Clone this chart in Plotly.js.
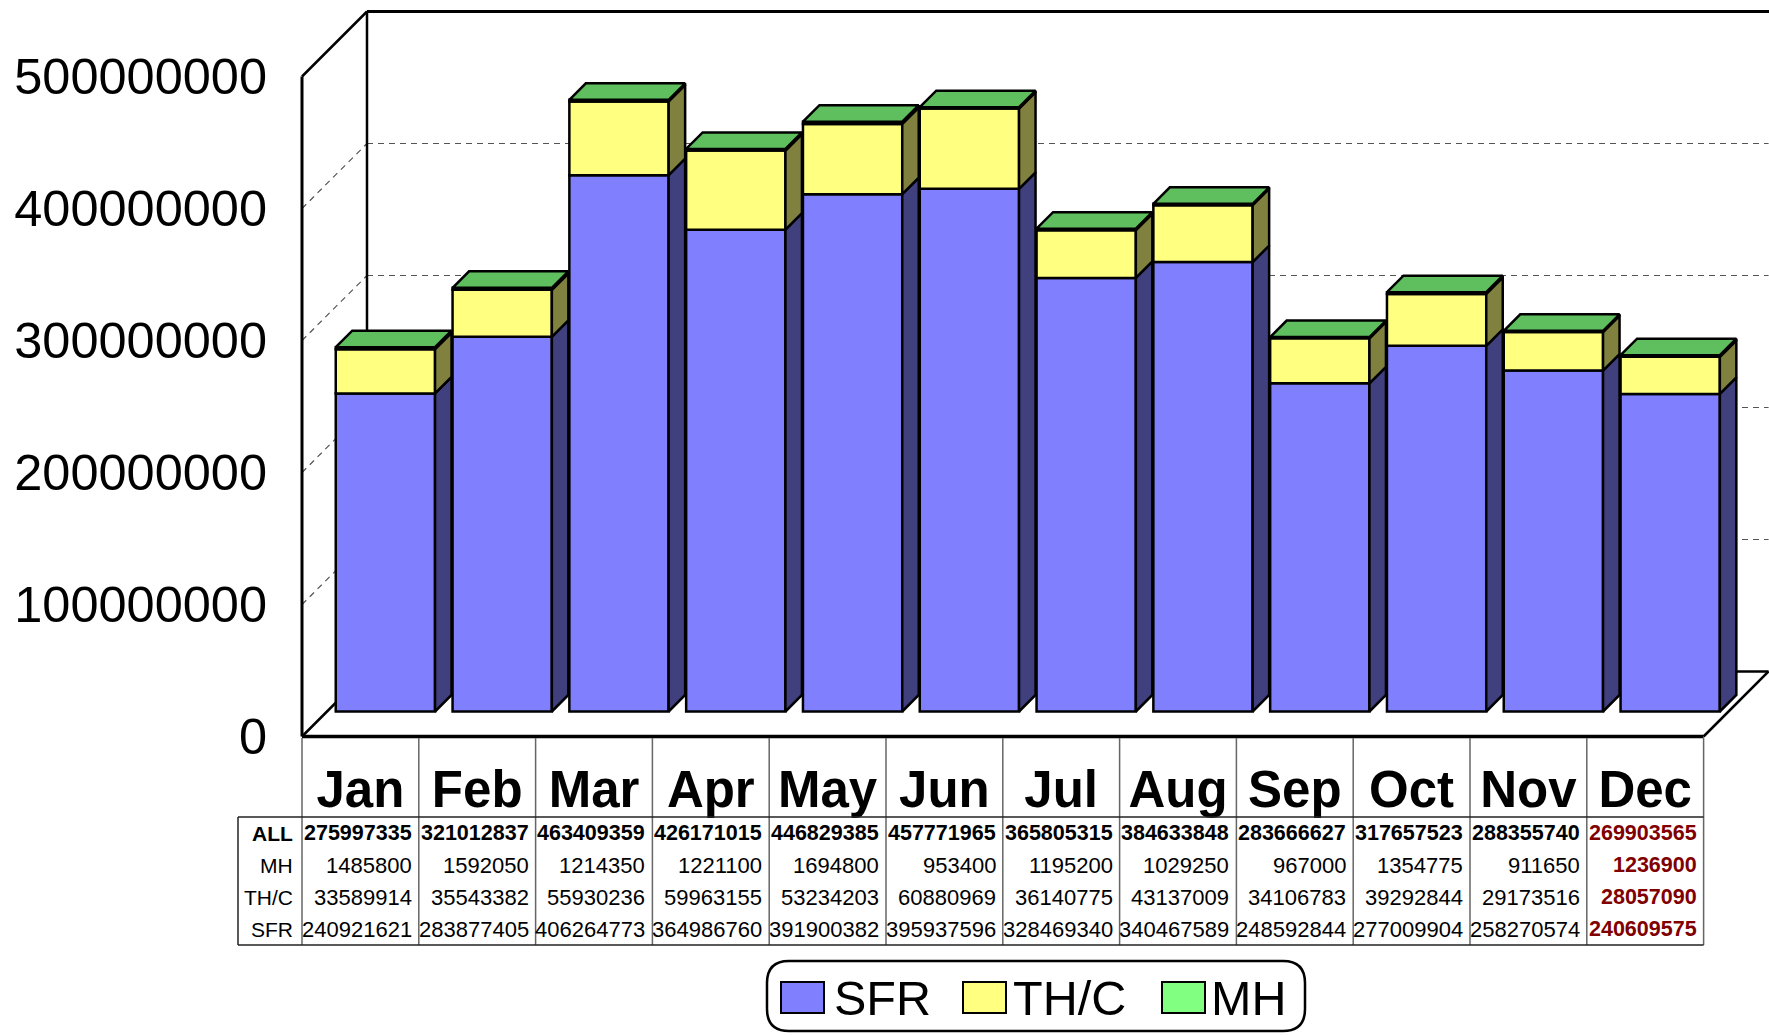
<!DOCTYPE html>
<html><head><meta charset="utf-8">
<script src="https://cdn.plot.ly/plotly-3.0.1.min.js"></script>
<style>html,body{margin:0;padding:0;background:#fff}</style>
</head><body><div id="chart" style="width:1769px;height:1035px"></div>
<script>
// ---------------- data ----------------
const months = ['Jan','Feb','Mar','Apr','May','Jun','Jul','Aug','Sep','Oct','Nov','Dec'];
const sfr = [240921621,283877405,406264773,364986760,391900382,395937596,328469340,340467589,248592844,277009904,258270574,240609575];
const thc = [33589914,35543382,55930236,59963155,53234203,60880969,36140775,43137009,34106783,39292844,29173516,28057090];
const mh  = [1485800,1592050,1214350,1221100,1694800,953400,1195200,1029250,967000,1354775,911650,1236900];
const allTotals = [275997335,321012837,463409359,426171015,446829385,457771965,365805315,384633848,283666627,317657523,288355740,269903565];
const seriesNames = ['SFR','TH/C','MH'];
const rowLabels = ['ALL','MH','TH/C','SFR'];
const yTickVals = [0,100000000,200000000,300000000,400000000,500000000];
const yTickText = ['0','100000000','200000000','300000000','400000000','500000000'];

// ---------------- geometry / style ----------------
const W=1769, H=1035;
const X0=302, Y0=736.5, CAT_PX=116.8, VAL_PX=132/1e8;
const xr=[-X0/CAT_PX,(W-X0)/CAT_PX], yr=[-(H-Y0)/VAL_PX, Y0/VAL_PX];
const ddx = d=>d/CAT_PX, ddv = d=>d/VAL_PX;
const WALL=65, FRONT=25, BACK=41.5, BW=0.85;
const n = months.length;
const vmax = yTickVals[yTickVals.length-1];
const FONT = 'Liberation Sans, Arial, sans-serif';
const frontCol = ['#8080FF','#FFFF80','#80FF80'];
const sideCol  = ['#40407F','#80803F','#40803F'];
const topCol   = '#5FBF5F';
const PX = px=>px/W, PY = py=>1-py/H;

const stacks=[sfr,thc,mh];
const bases=[]; let cum=new Array(n).fill(0);
stacks.forEach(s=>{bases.push(cum.slice()); cum=cum.map((c,i)=>c+s[i]);});

const traces=[];
// front faces (bars)
stacks.forEach((s,k)=>{
  traces.push({type:'bar', name:seriesNames[k], x:months.map((_,i)=>i+0.5+ddx(FRONT)), y:s,
    base:bases[k].map(b=>b+ddv(FRONT)), width:BW,
    marker:{color:frontCol[k], line:{color:'#000', width:2.5}}, showlegend:false, hoverinfo:'skip'});
});
// side faces
stacks.forEach((s,k)=>{
  const xs=[], ys=[];
  for(let i=0;i<n;i++){
    const xR=i+0.5+BW/2, v0=bases[k][i], v1=v0+s[i];
    xs.push(xR+ddx(FRONT),xR+ddx(BACK),xR+ddx(BACK),xR+ddx(FRONT),xR+ddx(FRONT),null);
    ys.push(v0+ddv(FRONT),v0+ddv(BACK),v1+ddv(BACK),v1+ddv(FRONT),v0+ddv(FRONT),null);
  }
  traces.push({type:'scatter', mode:'lines', x:xs, y:ys, fill:'toself', fillcolor:sideCol[k],
    line:{color:'#000', width:2.5}, showlegend:false, hoverinfo:'skip'});
});
// top faces
{
  const xs=[], ys=[];
  for(let i=0;i<n;i++){
    const xL=i+0.5-BW/2, xR=i+0.5+BW/2, T=cum[i];
    xs.push(xL+ddx(FRONT),xR+ddx(FRONT),xR+ddx(BACK),xL+ddx(BACK),xL+ddx(FRONT),null);
    ys.push(T+ddv(FRONT),T+ddv(FRONT),T+ddv(BACK),T+ddv(BACK),T+ddv(FRONT),null);
  }
  traces.push({type:'scatter', mode:'lines', x:xs, y:ys, fill:'toself', fillcolor:topCol,
    line:{color:'#000', width:2.5}, showlegend:false, hoverinfo:'skip'});
}

// ---------------- shapes ----------------
const shapes=[];
function ln(x0,y0,x1,y1,o){
  shapes.push(Object.assign({type:'line', xref:'x', yref:'y', x0,y0,x1,y1, layer:'below',
    line:{color:'#000', width:2.5}}, o||{}));
}
const Dx=ddx(WALL), Dv=ddv(WALL);
// gridlines
yTickVals.slice(1,-1).forEach(v=>{
  ln(Dx, v+Dv, n+Dx, v+Dv, {line:{color:'#555', width:1.2, dash:'6px,5px'}});
  ln(0, v, Dx, v+Dv, {line:{color:'#555', width:1.2, dash:'6px,5px'}});
});
// left wall
ln(0,0,0,vmax,{line:{color:'#000',width:3}});
ln(0,vmax,Dx,vmax+Dv,{line:{color:'#000',width:2.5}});
ln(Dx,Dv,Dx,vmax+Dv,{line:{color:'#000',width:2.5}});
ln(0,0,Dx,Dv,{line:{color:'#000',width:2.5}});
// back wall top
ln(Dx,vmax+Dv,n+Dx+0.5,vmax+Dv,{line:{color:'#000',width:3}});
// floor
ln(Dx,Dv,n+Dx,Dv,{line:{color:'#000',width:2.5}});
ln(n,0,n+Dx,Dv,{line:{color:'#000',width:2.5}});
ln(0,0,n,0,{line:{color:'#000',width:3.5}});

// table
const TAB_TOP=817, TAB_BOT=945, TAB_LEFT=(238-X0)/CAT_PX;
const rowY=[833,865,897,929];
function tl(x0,py0,x1,py1,col,w){
  shapes.push({type:'line', xref:'x', yref:'paper', x0, y0:PY(py0), x1, y1:PY(py1), line:{color:col,width:w}});
}
for(let i=0;i<=n;i++) tl(i,Y0+1.5,i,TAB_BOT,'#666',1.5);
tl(TAB_LEFT,TAB_TOP,n,TAB_TOP,'#222',1.5);
tl(TAB_LEFT,TAB_BOT,n,TAB_BOT,'#222',1.5);
tl(TAB_LEFT,TAB_TOP,TAB_LEFT,TAB_BOT,'#222',1.5);

const annotations=[];
const rowData=[allTotals,mh,thc,sfr];
rowLabels.forEach((lab,r)=>{
  annotations.push({xref:'x', yref:'paper', x:0, xshift:-7, y:PY(rowY[r]), xanchor:'right', yanchor:'middle',
    text:lab, showarrow:false, font:{family:FONT, size:21, color:'#000', weight: r===0?'bold':'normal'}});
  rowData[r].forEach((v,i)=>{
    const last = i===n-1;
    const bold = (r===0||last);
    annotations.push({xref:'x', yref:'paper', x:i+1, xshift:-5, y:PY(rowY[r]), xanchor:'right', yanchor:'middle',
      text:String(v), showarrow:false,
      font:{family:FONT, size: bold?21.5:22, color: last?'#800000':'#000', weight: bold?'bold':'normal'}});
  });
});

// legend (drawn manually)
const LB={x0:767,x1:1305,y0:961,y1:1031,r:22};
const path=`M ${PX(LB.x0+LB.r)},${PY(LB.y0)} L ${PX(LB.x1-LB.r)},${PY(LB.y0)} Q ${PX(LB.x1)},${PY(LB.y0)} ${PX(LB.x1)},${PY(LB.y0+LB.r)} L ${PX(LB.x1)},${PY(LB.y1-LB.r)} Q ${PX(LB.x1)},${PY(LB.y1)} ${PX(LB.x1-LB.r)},${PY(LB.y1)} L ${PX(LB.x0+LB.r)},${PY(LB.y1)} Q ${PX(LB.x0)},${PY(LB.y1)} ${PX(LB.x0)},${PY(LB.y1-LB.r)} L ${PX(LB.x0)},${PY(LB.y0+LB.r)} Q ${PX(LB.x0)},${PY(LB.y0)} ${PX(LB.x0+LB.r)},${PY(LB.y0)} Z`;
shapes.push({type:'path', xref:'paper', yref:'paper', path, line:{color:'#000',width:2.5}});
const legItems=[{sx:781,tx:832},{sx:963,tx:1011},{sx:1162,tx:1209}];
legItems.forEach((it,k)=>{
  shapes.push({type:'rect', xref:'paper', yref:'paper', x0:PX(it.sx), x1:PX(it.sx+43), y0:PY(982), y1:PY(1013),
    fillcolor:frontCol[k], line:{color:'#000', width:2}});
  annotations.push({xref:'paper', yref:'paper', x:PX(it.tx), y:PY(998), xanchor:'left', yanchor:'middle',
    text:seriesNames[k], showarrow:false, font:{family:FONT, size:48.5, color:'#000'}});
});

const layout={
  width:W, height:H, margin:{l:0,r:0,t:0,b:0}, paper_bgcolor:'#fff', plot_bgcolor:'rgba(0,0,0,0)',
  barmode:'overlay', showlegend:false,
  xaxis:{range:xr, tickvals:months.map((_,i)=>i+0.5), ticktext:months, anchor:'free', position:PY(Y0),
    ticks:'', showgrid:false, zeroline:false, showline:false, ticklabelstandoff:18,
    tickfont:{family:FONT, size:51, color:'#000', weight:'bold'}, fixedrange:true},
  yaxis:{range:yr, tickvals:yTickVals, ticktext:yTickText, anchor:'free', position:PX(X0), side:'left',
    ticks:'', showgrid:false, zeroline:false, showline:false, ticklabelstandoff:35,
    tickfont:{family:FONT, size:50.5, color:'#000'}, fixedrange:true},
  shapes, annotations
};
Plotly.newPlot('chart', traces, layout, {staticPlot:true, displayModeBar:false});
</script></body></html>
